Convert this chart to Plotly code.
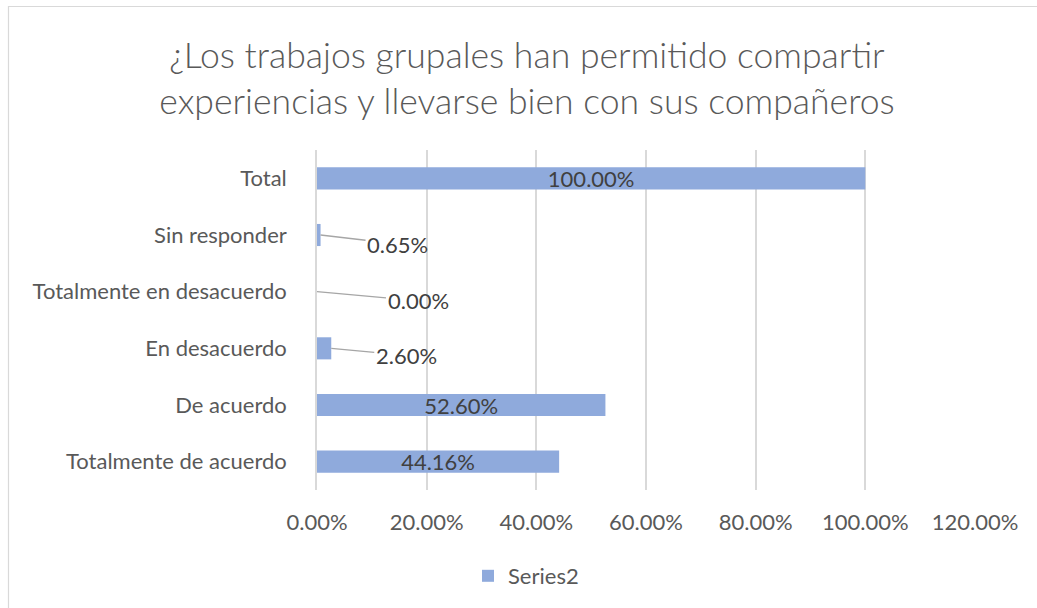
import plotly.graph_objects as go

categories = ["Totalmente de acuerdo", "De acuerdo", "En desacuerdo",
              "Totalmente en desacuerdo", "Sin responder", "Total"]
values = [44.16, 52.60, 2.60, 0.00, 0.65, 100.00]
labels = ["44.16%", "52.60%", "2.60%", "0.00%", "0.65%", "100.00%"]
tick_vals = [0, 20, 40, 60, 80, 100, 120]
tick_text = ["0.00%", "20.00%", "40.00%", "60.00%", "80.00%", "100.00%", "120.00%"]

BAR = "#8FAADC"
FONT = "Lato"
FS = 22

inside_text = [l if v >= 10 else "" for v, l in zip(values, labels)]

fig = go.Figure()
fig.add_trace(go.Bar(
    y=categories, x=values, orientation="h", name="Series2",
    marker=dict(color=BAR, line=dict(width=0)),
    width=0.39,
    text=inside_text, textposition="inside", insidetextanchor="middle",
    constraintext="none",
    textfont=dict(family=FONT, size=FS, color="#404040"),
    cliponaxis=False,
))

# outside labels with leader lines for small values
offsets = {"Sin responder": (77, 9), "Totalmente en desacuerdo": (101, 9), "En desacuerdo": (75, 7)}
for c, v, l in zip(categories, values, labels):
    if v < 10:
        ax, ay = offsets[c]
        fig.add_annotation(
            x=v, y=c, xref="x", yref="y", text=l, showarrow=True,
            arrowhead=0, arrowwidth=1.3, arrowcolor="#A6A6A6",
            ax=ax, ay=ay, standoff=0, startstandoff=0,
            font=dict(family=FONT, size=FS, color="#404040"),
        )

fig.add_shape(type="rect", xref="paper", yref="paper",
              x0=(8.5 - 317) / 658, x1=(1100 - 317) / 658,
              y0=-0.5, y1=1 + (150 - 6.5) / 340,
              line=dict(color="#D9D9D9", width=1.2), fillcolor="rgba(0,0,0,0)", layer="below")

fig.update_layout(
    width=1037, height=608,
    margin=dict(l=317, r=62, t=150, b=118),
    paper_bgcolor="white", plot_bgcolor="white",
    title=dict(
        text="¿Los trabajos grupales han permitido compartir<br>experiencias y llevarse bien con sus compañeros",
        x=527 / 1037, xanchor="center", xref="container",
        y=1 - 68 / 608, yanchor="middle", yref="container",
        font=dict(family=FONT, size=35.6, color="#595959", weight=300),
    ),
    xaxis=dict(range=[0, 120], tickvals=tick_vals, ticktext=tick_text,
               showgrid=True, gridcolor="#D9D9D9", gridwidth=1.6,
               zeroline=False, showline=False, ticks="",
               tickfont=dict(family=FONT, size=FS, color="#595959"), ticklabelstandoff=17),
    yaxis=dict(categoryorder="array", categoryarray=categories,
               showgrid=False, zeroline=False, showline=True, linecolor="#D9D9D9", linewidth=1.6,
               ticks="", ticklabelstandoff=24,
               tickfont=dict(family=FONT, size=FS, color="#595959")),
    showlegend=True,
    legend=dict(orientation="h", xref="container", yref="container",
                x=526 / 1037, xanchor="center", y=1 - 576 / 608, yanchor="middle",
                font=dict(family=FONT, size=FS, color="#595959"), itemwidth=30),
    bargap=0.61,
)

fig.write_html("out.html", config={"displayModeBar": False},
               post_script="document.body.style.margin='0';")
